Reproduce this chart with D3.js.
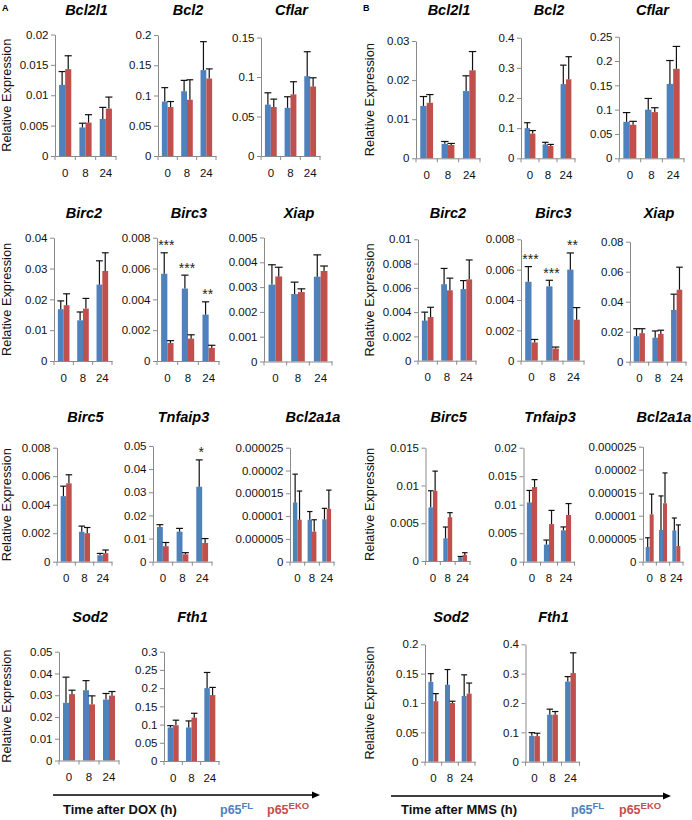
<!DOCTYPE html>
<html><head><meta charset="utf-8">
<script src="https://cdn.jsdelivr.net/npm/d3@7"></script>
<style>
body{margin:0;background:#fff}
svg{display:block;font-family:"Liberation Sans",Arial,sans-serif}
</style>
</head><body>
<svg id="c" width="692" height="820"></svg>
<script>
// ---------- data ----------
const timePoints = ["0", "8", "24"];
const genes = ["Bcl2l1","Bcl2","Cflar","Birc2","Birc3","Xiap","Birc5","Tnfaip3","Bcl2a1a","Sod2","Fth1"];

// Panel A (DOX)
const ticksA = [
  [0,0.005,0.01,0.015,0.02],[0,0.05,0.1,0.15,0.2],[0,0.05,0.1,0.15],
  [0,0.01,0.02,0.03,0.04],[0,0.002,0.004,0.006,0.008],[0,0.001,0.002,0.003,0.004,0.005],
  [0,0.002,0.004,0.006,0.008],[0,0.01,0.02,0.03,0.04,0.05],[0,0.000005,0.00001,0.000015,0.00002,0.000025],
  [0,0.01,0.02,0.03,0.04,0.05],[0,0.05,0.1,0.15,0.2,0.25,0.3]
];
const flA = [
  [0.0117,0.0047,0.0061],[0.090,0.107,0.142],[0.065,0.061,0.101],
  [0.0168,0.0132,0.0248],[0.00566,0.0047,0.00301],[0.0031,0.00272,0.00342],
  [0.0046,0.0021,0.00045],[0.015,0.013,0.0324],[0.000013,0.0000092,0.0000093],
  [0.0265,0.0323,0.028],[0.092,0.092,0.200]
];
const flSdA = [
  [0.0022,0.0007,0.0019],[0.023,0.018,0.047],[0.015,0.014,0.031],
  [0.0027,0.0027,0.0077],[0.00136,0.00087,0.00083],[0.0008,0.00048,0.00088],
  [0.0007,0.0004,0.00013],[0.001,0.0014,0.0116],[0.0000062,0.0000018,0.0000024],
  [0.0118,0.0044,0.0028],[0.005,0.018,0.043]
];
const ekoA = [
  [0.0143,0.0055,0.0078],[0.081,0.093,0.128],[0.062,0.078,0.088],
  [0.0181,0.0170,0.0292],[0.00117,0.00145,0.00085],[0.00343,0.0028,0.00365],
  [0.0055,0.0020,0.0006],[0.0067,0.0032,0.0081],[0.0000092,0.0000066,0.0000116],
  [0.0305,0.0258,0.0298],[0.098,0.119,0.181]
];
const ekoSdA = [
  [0.0022,0.0013,0.0019],[0.009,0.033,0.016],[0.010,0.016,0.011],
  [0.0037,0.0033,0.0059],[0.00015,0.00025,0.00017],[0.00037,0.00013,0.0002],
  [0.0006,0.0004,0.00022],[0.0016,0.0007,0.0019],[0.0000063,0.0000026,0.0000041],
  [0.0018,0.0039,0.0019],[0.014,0.012,0.021]
];
const starsA = [
  ["","",""],["","",""],["","",""],
  ["","",""],["***","***","**"],["","",""],
  ["","",""],["","","*"],["","",""],
  ["","",""],["","",""]
];

// Panel B (MMS)
const ticksB = [
  [0,0.01,0.02,0.03],[0,0.1,0.2,0.3,0.4],[0,0.05,0.1,0.15,0.2,0.25],
  [0,0.002,0.004,0.006,0.008,0.01],[0,0.002,0.004,0.006,0.008],[0,0.02,0.04,0.06,0.08],
  [0,0.005,0.01,0.015],[0,0.005,0.01,0.015,0.02],[0,0.000005,0.00001,0.000015,0.00002,0.000025],
  [0,0.05,0.1,0.15,0.2],[0,0.1,0.2,0.3,0.4]
];
const flB = [
  [0.0134,0.0037,0.0172],[0.100,0.046,0.246],[0.075,0.100,0.153],
  [0.0033,0.0063,0.0059],[0.0052,0.0049,0.006],[0.017,0.016,0.0345],
  [0.0071,0.003,0.0005],[0.0104,0.003,0.0055],[0.0000032,0.0000069,0.0000068],
  [0.136,0.131,0.112],[0.088,0.160,0.273]
];
const flSdB = [
  [0.0024,0.0006,0.0039],[0.018,0.007,0.063],[0.019,0.023,0.048],
  [0.0007,0.0013,0.0007],[0.001,0.0004,0.0011],[0.005,0.0045,0.0105],
  [0.0022,0.0015,0.0001],[0.0021,0.0008,0.0006],[0.000002,0.0000074,0.0000027],
  [0.014,0.026,0.036],[0.011,0.019,0.017]
];
const ekoB = [
  [0.0142,0.0034,0.0225],[0.082,0.041,0.262],[0.069,0.095,0.184],
  [0.0036,0.0058,0.0067],[0.0012,0.0008,0.0027],[0.019,0.0185,0.048],
  [0.0093,0.0058,0.0008],[0.0131,0.0066,0.0082],[0.0000103,0.0000127,0.0000034],
  [0.103,0.100,0.116],[0.087,0.160,0.302]
];
const ekoSdB = [
  [0.0021,0.0004,0.0048],[0.010,0.005,0.075],[0.007,0.009,0.046],
  [0.0008,0.001,0.0016],[0.0002,0.0001,0.0008],[0.003,0.0025,0.015],
  [0.0026,0.0006,0.0003],[0.0013,0.0024,0.002],[0.0000044,0.0000066,0.0000046],
  [0.013,0.003,0.018],[0.010,0.011,0.069]
];
const starsB = [
  ["","",""],["","",""],["","",""],
  ["","",""],["***","***","**"],["","",""],
  ["","",""],["","",""],["","",""],
  ["","",""],["","",""]
];

const seriesNames = ["p65", "p65"];
const seriesSup = ["FL", "EKO"];

// ---------- layout (plot areas: x0, x1, yTop, y0) ----------
const layoutA = [
  [55,116,34.5,156],[158,216,35,156],[261,320,37.5,156],
  [54,112,237.7,361],[157,219,237.7,361],[264,332,237.5,361.5],
  [57,112,447.7,561.7],[153,212,446,561.7],[290,334,447.7,561.7],
  [59,119,651.7,760.5],[164,219,651.7,761]
];
const layoutB = [
  [416,480,41,158.3],[521,575,37.7,158.3],[619,684,36.7,158.3],
  [418,476,239.3,360.7],[521,584,239.3,360.7],[630,686,241.7,361.7],
  [425.5,470,447.7,561],[523.5,574.5,447.7,561.7],[643,683,446.7,561.7],
  [425,475,644.3,761.7],[525.5,579.5,644.3,761.7]
];
const titleBase = [14.5, 217.5, 421.5, 621.5];

const BLUE = "#4F81BD", RED = "#C0504D", AXIS = "#8a8a8a";
const svg = d3.select("#c");

function panel(g, i, ticks, fl, flSd, eko, ekoSd, stars, lay) {
  const [x0, x1, yTop, y0] = lay;
  const x = d3.scaleBand().domain(timePoints).range([x0, x1]).paddingInner(0).paddingOuter(0);
  const y = d3.scaleLinear().domain([0, ticks[ticks.length - 1]]).range([y0, yTop]);
  const bw = x.bandwidth() * 0.3;

  // y axis
  const ya = g.append("g").attr("transform", `translate(${x0},0)`)
    .call(d3.axisLeft(y).tickValues(ticks).tickSize(4).tickSizeOuter(0).tickPadding(2.5).tickFormat(v => String(v)));
  ya.select(".domain").attr("stroke", AXIS);
  ya.selectAll(".tick line").attr("stroke", AXIS);
  ya.selectAll("text").attr("font-size", 11.5).attr("fill", "#111").attr("font-family", "Liberation Sans, Arial, sans-serif");

  // bars
  const series = [[fl, flSd, BLUE, -bw], [eko, ekoSd, RED, 0]];
  series.forEach(([vals, sds, col, off]) => {
    g.append("g").selectAll("rect").data(timePoints).join("rect")
      .attr("x", (t) => x(t) + x.bandwidth() / 2 + off)
      .attr("width", bw)
      .attr("y", (t, k) => y(vals[k]))
      .attr("height", (t, k) => y(0) - y(vals[k]))
      .attr("fill", col);
    const eg = g.append("g").attr("stroke", "#111").attr("stroke-width", 1.2);
    timePoints.forEach((t, k) => {
      const cx = x(t) + x.bandwidth() / 2 + off + bw / 2;
      const yt = y(vals[k] + sds[k]);
      eg.append("line").attr("x1", cx).attr("x2", cx).attr("y1", y(vals[k])).attr("y2", yt);
      eg.append("line").attr("x1", cx - bw / 2 - 0.5).attr("x2", cx + bw / 2 + 0.5).attr("y1", yt).attr("y2", yt);
    });
  });

  // significance stars
  timePoints.forEach((t, k) => {
    if (!stars[k]) return;
    g.append("text").attr("x", x(t) + x.bandwidth() / 2 - 1)
      .attr("y", y(fl[k] + flSd[k]) - 2.5)
      .attr("text-anchor", "middle").attr("font-size", 14).attr("fill", "#222")
      .text(stars[k]);
  });

  // x axis
  const xa = g.append("g").attr("transform", `translate(0,${y0})`)
    .call(d3.axisBottom(x).tickSize(0).tickSizeOuter(0).tickPadding(12.5));
  xa.select(".domain").attr("stroke", AXIS);
  xa.selectAll("text").attr("font-size", 11.5).attr("fill", "#111").attr("font-family", "Liberation Sans, Arial, sans-serif");
  const bounds = timePoints.map(t => x(t)).concat([x1]);
  g.append("g").selectAll("line").data(bounds).join("line")
    .attr("x1", d => d).attr("x2", d => d).attr("y1", y0).attr("y2", y0 + 4)
    .attr("stroke", AXIS);

  // title
  g.append("text").attr("x", (x0 + x1) / 2 + 1).attr("y", titleBase[Math.floor(i / 3)])
    .attr("text-anchor", "middle").attr("font-size", 14.5).attr("font-weight", "bold")
    .attr("font-style", "italic").attr("fill", "#000").text(genes[i]);

  return y;
}

function figure(letter, lx, ticks, fl, flSd, eko, ekoSd, stars, layout, ylabX, timeLabel, arrow, legX) {
  const g = svg.append("g");
  g.append("text").attr("x", lx).attr("y", 11).attr("font-size", 9).attr("font-weight", "bold").text(letter);
  genes.forEach((gene, i) => {
    panel(g, i, ticks[i], fl[i], flSd[i], eko[i], ekoSd[i], stars[i], layout[i]);
  });
  // y labels per row
  [0, 3, 6, 9].forEach(i => {
    const [, , yTop, y0] = layout[i];
    g.append("text").attr("transform", `translate(${ylabX},${(yTop + y0) / 2}) rotate(-90)`)
      .attr("text-anchor", "middle").attr("font-size", 12.8).attr("fill", "#111")
      .text("Relative Expression");
  });
  // arrow
  const [ax0, ax1, ay] = arrow;
  g.append("line").attr("x1", ax0).attr("x2", ax1 - 6).attr("y1", ay).attr("y2", ay)
    .attr("stroke", "#000").attr("stroke-width", 1.3);
  g.append("path").attr("d", `M${ax1 - 8},${ay - 3.5}L${ax1},${ay}L${ax1 - 8},${ay + 3.5}Z`).attr("fill", "#000");
  g.append("text").attr("x", ax0 + 10).attr("y", 814).attr("font-size", 13).attr("font-weight", "bold")
    .attr("fill", "#111").text(timeLabel);
  [BLUE, RED].forEach((col, s) => {
    const t = g.append("text").attr("x", legX[s]).attr("y", 814).attr("font-size", 12.5)
      .attr("font-weight", "bold").attr("fill", col);
    t.append("tspan").text(seriesNames[s]);
    t.append("tspan").attr("font-size", 9.5).attr("dy", -5).text(seriesSup[s]);
  });
}

figure("A", 2, ticksA, flA, flSdA, ekoA, ekoSdA, starsA, layoutA, 11, "Time after DOX (h)", [53, 320, 795], [220, 267]);
figure("B", 363, ticksB, flB, flSdB, ekoB, ekoSdB, starsB, layoutB, 374, "Time after MMS (h)", [391, 671, 796], [571, 619]);
</script>
</body></html>
